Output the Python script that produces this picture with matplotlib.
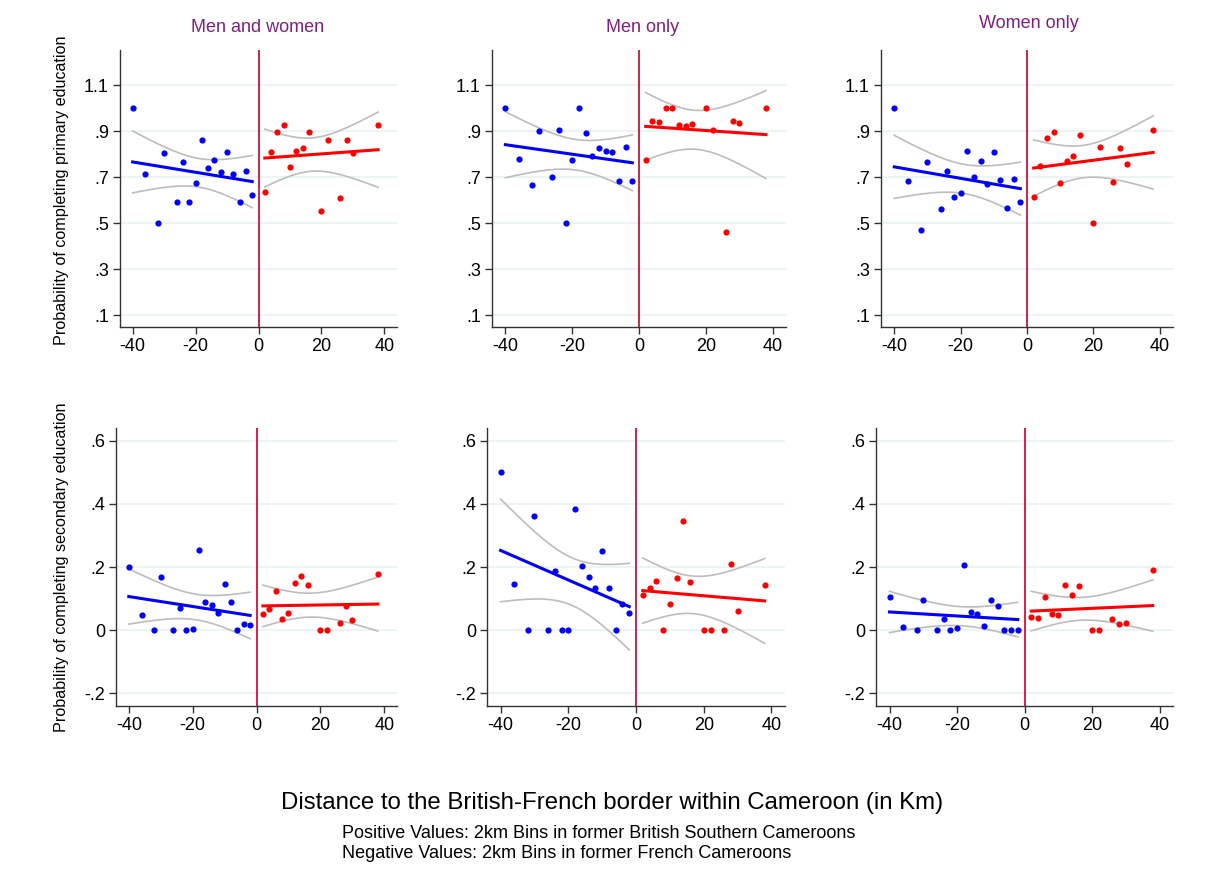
import numpy as np
import matplotlib
matplotlib.use("Agg")
import matplotlib.pyplot as plt

plt.rcParams['font.family'] = ['Liberation Sans', 'DejaVu Sans']

# 2km bins: negative = former French Cameroons, positive = former British Southern Cameroons
x_fr = np.array([-40, -36, -32, -30, -26, -24, -22, -20, -18, -16, -14, -12, -10, -8, -6, -4, -2])
x_br = np.array([2, 4, 6, 8, 10, 12, 14, 16, 20, 22, 26, 28, 30, 38])

# primary education
prim_all_fr = [1.0, 0.712, 0.5, 0.806, 0.594, 0.767, 0.594, 0.674, 0.864, 0.742, 0.777,
               0.725, 0.812, 0.713, 0.593, 0.729, 0.622]
prim_all_br = [0.636, 0.81, 0.896, 0.929, 0.745, 0.816, 0.828, 0.899, 0.555, 0.862, 0.609,
               0.862, 0.804, 0.929]
prim_men_fr = [1.0, 0.78, 0.667, 0.903, 0.7, 0.904, 0.5, 0.775, 1.0, 0.891, 0.793,
               0.826, 0.813, 0.81, 0.684, 0.833, 0.684]
prim_men_br = [0.777, 0.945, 0.939, 1.0, 1.0, 0.929, 0.923, 0.93, 1.0, 0.904, 0.462,
               0.946, 0.938, 1.0]
prim_wom_fr = [1.0, 0.684, 0.472, 0.768, 0.562, 0.728, 0.614, 0.633, 0.814, 0.699, 0.772,
               0.672, 0.812, 0.687, 0.567, 0.694, 0.591]
prim_wom_br = [0.612, 0.748, 0.872, 0.896, 0.674, 0.77, 0.794, 0.886, 0.5, 0.832, 0.678,
               0.829, 0.759, 0.904]

# secondary education
sec_all_fr = [0.201, 0.048, 0.0, 0.169, 0.0, 0.069, 0.0, 0.005, 0.254, 0.09, 0.08,
              0.055, 0.146, 0.089, 0.0, 0.021, 0.017]
sec_all_br = [0.052, 0.068, 0.124, 0.036, 0.055, 0.149, 0.171, 0.144, 0.0, 0.0, 0.024,
              0.076, 0.032, 0.179]
sec_men_fr = [0.5, 0.147, 0.0, 0.362, 0.0, 0.187, 0.0, 0.0, 0.383, 0.203, 0.169,
              0.134, 0.251, 0.135, 0.0, 0.084, 0.053]
sec_men_br = [0.111, 0.135, 0.156, 0.0, 0.084, 0.164, 0.347, 0.152, 0.0, 0.0, 0.0,
              0.211, 0.062, 0.143]
sec_wom_fr = [0.105, 0.01, 0.0, 0.096, 0.0, 0.035, 0.0, 0.007, 0.206, 0.056, 0.051,
              0.014, 0.097, 0.076, 0.0, 0.0, 0.0]
sec_wom_br = [0.041, 0.038, 0.106, 0.052, 0.047, 0.143, 0.11, 0.14, 0.0, 0.0, 0.035,
              0.021, 0.022, 0.192]

titles = ["Men and women", "Men only", "Women only"]
prim_ticks = [0.1, 0.3, 0.5, 0.7, 0.9, 1.1]
prim_labels = [".1", ".3", ".5", ".7", ".9", "1.1"]
sec_ticks = [-0.2, 0, 0.2, 0.4, 0.6]
sec_labels = ["-.2", "0", ".2", ".4", ".6"]
x_ticks = [-40, -20, 0, 20, 40]


def lfitci(ax, x, y, color):
    # linear fit with 95% CI of the mean prediction (like Stata's lfitci)
    x = np.asarray(x, float)
    y = np.asarray(y, float)
    n = len(x)
    b, a = np.polyfit(x, y, 1)
    resid = y - (a + b * x)
    s = np.sqrt(np.sum(resid ** 2) / (n - 2))
    xg = np.linspace(x.min(), x.max(), 100)
    se = s * np.sqrt(1 / n + (xg - x.mean()) ** 2 / np.sum((x - x.mean()) ** 2))
    t = 2.131 if n == 17 else 2.179
    fit = a + b * xg
    ax.plot(xg, fit + t * se, color='#bdbdbd', lw=1.2, zorder=2)
    ax.plot(xg, fit - t * se, color='#bdbdbd', lw=1.2, zorder=2)
    ax.scatter(x, y, s=20, color=color, zorder=3, linewidths=0)
    ax.plot(xg, fit, color=color, lw=2.2, zorder=4)


W, H = 1208, 894
fig = plt.figure(figsize=(W / 100, H / 100), dpi=100)

# pixel boxes: left, right, top, bottom
boxes_top = [(120, 397, 50, 327), (492, 786, 50, 327), (881, 1173, 50, 327)]
boxes_bot = [(116, 397, 428, 706), (487, 785, 428, 706), (876, 1173, 428, 706)]

prim = [(prim_all_fr, prim_all_br), (prim_men_fr, prim_men_br), (prim_wom_fr, prim_wom_br)]
sec = [(sec_all_fr, sec_all_br), (sec_men_fr, sec_men_br), (sec_wom_fr, sec_wom_br)]

for row, (boxes, data, ticks, labels, ylim) in enumerate([
        (boxes_top, prim, prim_ticks, prim_labels, (0.048, 1.254)),
        (boxes_bot, sec, sec_ticks, sec_labels, (-0.24, 0.64))]):
    for i, (l, r, t, b) in enumerate(boxes):
        ax = fig.add_axes([l / W, 1 - b / H, (r - l) / W, (b - t) / H])
        for tk in ticks:
            ax.axhline(tk, color='#eaf2f3', lw=1.2, zorder=0)
        ax.axvline(0, color='#c8143c', lw=1.3, zorder=1)
        lfitci(ax, x_fr, data[i][0], '#0000ff')
        lfitci(ax, x_br, data[i][1], '#ff0000')
        ax.set_xlim(-44, 44)
        ax.set_ylim(*ylim)
        ax.set_xticks(x_ticks)
        ax.set_xticklabels([str(v) for v in x_ticks])
        ax.set_yticks(ticks)
        ax.set_yticklabels(labels)
        for sp in ['top', 'right']:
            ax.spines[sp].set_visible(False)
        for sp in ['left', 'bottom']:
            ax.spines[sp].set_color('#333333')
            ax.spines[sp].set_linewidth(1.0)
        ax.tick_params(length=5, width=1.0, color='#333333', labelsize=13, pad=3)

title_pos = [(258, 28), (643, 27), (1029, 24)]
for (px, py), ttl in zip(title_pos, titles):
    fig.text(px / W, 1 - py / H, ttl, ha='center', va='center', fontsize=13, color='#7f1f7f')

fig.text(62 / W, 1 - 190 / H, "Probability of completing primary education",
         rotation=90, ha='center', va='center', fontsize=11.6)
fig.text(62 / W, 1 - 567 / H, "Probability of completing secondary education",
         rotation=90, ha='center', va='center', fontsize=11.6)
fig.text(612 / W, 1 - 803 / H, "Distance to the British-French border within Cameroon (in Km)",
         ha='center', va='center', fontsize=17.3)
fig.text(342 / W, 1 - 834 / H, "Positive Values: 2km Bins in former British Southern Cameroons",
         ha='left', va='center', fontsize=13)
fig.text(342 / W, 1 - 853 / H, "Negative Values: 2km Bins in former French Cameroons",
         ha='left', va='center', fontsize=13)

fig.savefig("out.png", dpi=100)
